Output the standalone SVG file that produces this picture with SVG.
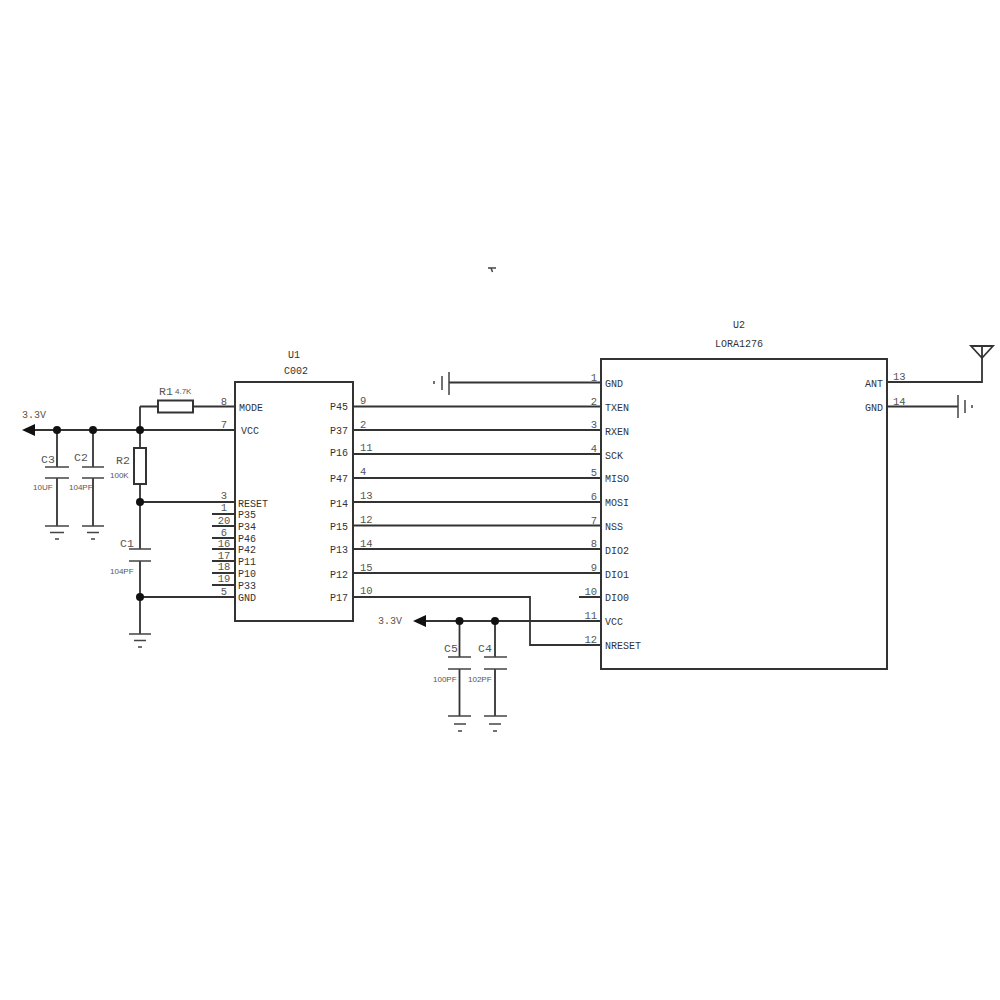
<svg xmlns="http://www.w3.org/2000/svg" width="1000" height="1000" viewBox="0 0 1000 1000">
<style>
.w{fill:none;stroke:#333;stroke-width:1.8}
.s{fill:none;stroke:#444;stroke-width:1.5}
.b{fill:#fff;stroke:#333;stroke-width:2}
.d{fill:#111;stroke:none}
text{font-family:"Liberation Mono","DejaVu Sans Mono",monospace;font-size:10px;fill:#333}
.n{font-size:10.5px;fill:#555}
.l{font-size:11.500px;fill:#555}
.v{font-size:10px;fill:#555}
.m{font-size:8px;fill:#555;font-family:"Liberation Sans",Arial,sans-serif}
.e{text-anchor:end}
.c{text-anchor:middle}
</style>
<rect width="1000" height="1000" fill="#fff"/>
<path id="stray-mark" d="M488 268H496M491 268L492.500 272" class="s"/>
<g id="connectors">
<path class="w" d="M35 430H235M57 430V467M93 430V467M140 430V448M140 406.500H158M193 406.500H235M140 430V406.500M140 484V549M140 502H235M140 597H235M140 561V634M57 478V526M93 478V526"/>
<path class="w" d="M353 406.500H601M353 430H601M353 454H601M353 478H601M353 502H601M353 525.500H601M353 549H601M353 573H601"/>
<path class="w" d="M353 597H530V645H601M426 621H601M459.500 621V657M495 621V657M459.500 669V716M495 669V716"/>
<path class="w" d="M449 382.500H601M887 382H982V358M887 406.500H958"/>
<path class="w" d="M212 514H235M212 526H235M212 538H235M212 549H235M212 561H235M212 573H235M212 585H235M579 597H601"/>
</g>
<g id="U1">
<rect class="b" x="235" y="382" width="118" height="239"/>
<text class="c" x="294" y="358">U1</text><text class="c" x="296" y="374">C002</text>
<text x="239" y="411">MODE</text><text x="241" y="434">VCC</text><text x="238" y="507">RESET</text><text x="238" y="518">P35</text><text x="238" y="530">P34</text><text x="238" y="542">P46</text><text x="238" y="553">P42</text><text x="238" y="565">P11</text><text x="238" y="577">P10</text><text x="238" y="589">P33</text><text x="238" y="601">GND</text>
<text class="e" x="348" y="410">P45</text><text class="e" x="348" y="434">P37</text><text class="e" x="348" y="456">P16</text><text class="e" x="348" y="482">P47</text><text class="e" x="348" y="507">P14</text><text class="e" x="348" y="530">P15</text><text class="e" x="348" y="553">P13</text><text class="e" x="348" y="578">P12</text><text class="e" x="348" y="601">P17</text>
<text class="n c" x="224" y="405">8</text><text class="n c" x="224" y="428">7</text><text class="n c" x="224" y="499">3</text><text class="n c" x="224" y="511">1</text><text class="n c" x="224" y="524">20</text><text class="n c" x="224" y="536">6</text><text class="n c" x="224" y="547">16</text><text class="n c" x="224" y="559">17</text><text class="n c" x="224" y="570">18</text><text class="n c" x="224" y="582">19</text><text class="n c" x="224" y="595">5</text>
<text class="n" x="360" y="404">9</text><text class="n" x="360" y="428">2</text><text class="n" x="360" y="451">11</text><text class="n" x="360" y="475">4</text><text class="n" x="360" y="499">13</text><text class="n" x="360" y="523">12</text><text class="n" x="360" y="547">14</text><text class="n" x="360" y="571">15</text><text class="n" x="360" y="594">10</text>
</g>
<g id="U2">
<rect class="b" x="601" y="359" width="286" height="310"/>
<text class="c" x="739" y="328">U2</text><text class="c" x="739" y="347">LORA1276</text>
<text x="605" y="387">GND</text><text x="605" y="411">TXEN</text><text x="605" y="435">RXEN</text><text x="605" y="459">SCK</text><text x="605" y="482">MISO</text><text x="605" y="506">MOSI</text><text x="605" y="530">NSS</text><text x="605" y="554">DIO2</text><text x="605" y="578">DIO1</text><text x="605" y="601">DIO0</text><text x="605" y="625">VCC</text><text x="605" y="649">NRESET</text>
<text class="e" x="883" y="387">ANT</text><text class="e" x="883" y="411">GND</text>
<text class="n e" x="597" y="381">1</text><text class="n e" x="597" y="405">2</text><text class="n e" x="597" y="428">3</text><text class="n e" x="597" y="452">4</text><text class="n e" x="597" y="476">5</text><text class="n e" x="597" y="500">6</text><text class="n e" x="597" y="524">7</text><text class="n e" x="597" y="547">8</text><text class="n e" x="597" y="571">9</text><text class="n e" x="597" y="595">10</text><text class="n e" x="597" y="619">11</text><text class="n e" x="597" y="643">12</text>
<text class="n" x="893" y="380">13</text><text class="n" x="893" y="405">14</text>
</g>
<g id="R1"><rect class="b" x="158" y="400.500" width="35" height="12"/><text class="l" x="159" y="395">R1</text><text class="m" x="175" y="394">4.7K</text></g>
<g id="R2"><rect class="b" x="134" y="448" width="12" height="36"/><text class="l" x="116" y="464">R2</text><text class="m" x="110" y="478">100K</text></g>
<g id="C3"><path class="s" d="M45 467H69M45 478H69"/><text class="l" x="41" y="463">C3</text><text class="m" x="33" y="490">10UF</text></g>
<g id="C2"><path class="s" d="M82 467H104M82 478H104"/><text class="l" x="74" y="461">C2</text><text class="m" x="69" y="490">104PF</text></g>
<g id="C1"><path class="s" d="M129 549H151M129 561H151"/><text class="l" x="120" y="547">C1</text><text class="m" x="110" y="574">104PF</text></g>
<g id="C5"><path class="s" d="M448 657H471M448 669H471"/><text class="l" x="444" y="652">C5</text><text class="m" x="433" y="682">100PF</text></g>
<g id="C4"><path class="s" d="M484 657H507M484 669H507"/><text class="l" x="478" y="652">C4</text><text class="m" x="468" y="682">102PF</text></g>
<g id="gnd-C3"><path class="s" d="M45 526H69M50 532.500H64M55 539H59"/></g>
<g id="gnd-C2"><path class="s" d="M82 526H104M87 532.500H99M91 539H95"/></g>
<g id="gnd-C1"><path class="s" d="M129 634H151M134 640.500H146M138 647H142"/></g>
<g id="gnd-C5"><path class="s" d="M448 716H471M454 724H466M458 731H462"/></g>
<g id="gnd-C4"><path class="s" d="M484 716H507M489 724H501M493 731H497"/></g>
<g id="gnd-U2-1"><path class="s" d="M449 372V395M442 376V390M434 381V384"/></g>
<g id="gnd-U2-14"><path class="s" d="M958 395V418M965 400V413M972 405V408"/></g>
<g id="antenna"><path class="w" d="M971 346H993L982 358ZM982 346V358"/></g>
<g id="power-left"><path class="d" d="M22 430L35 424V436Z"/><text class="v" x="22" y="418">3.3V</text></g>
<g id="power-right"><path class="d" d="M413 621L426 615V627Z"/><text class="v" x="378" y="624">3.3V</text></g>
<g id="junctions"><circle class="d" cx="57" cy="430" r="4"/><circle class="d" cx="93" cy="430" r="4"/><circle class="d" cx="140" cy="430" r="4"/><circle class="d" cx="140" cy="502" r="4"/><circle class="d" cx="140" cy="597" r="4"/><circle class="d" cx="459.500" cy="621" r="4"/><circle class="d" cx="495" cy="621" r="4"/></g>
</svg>
